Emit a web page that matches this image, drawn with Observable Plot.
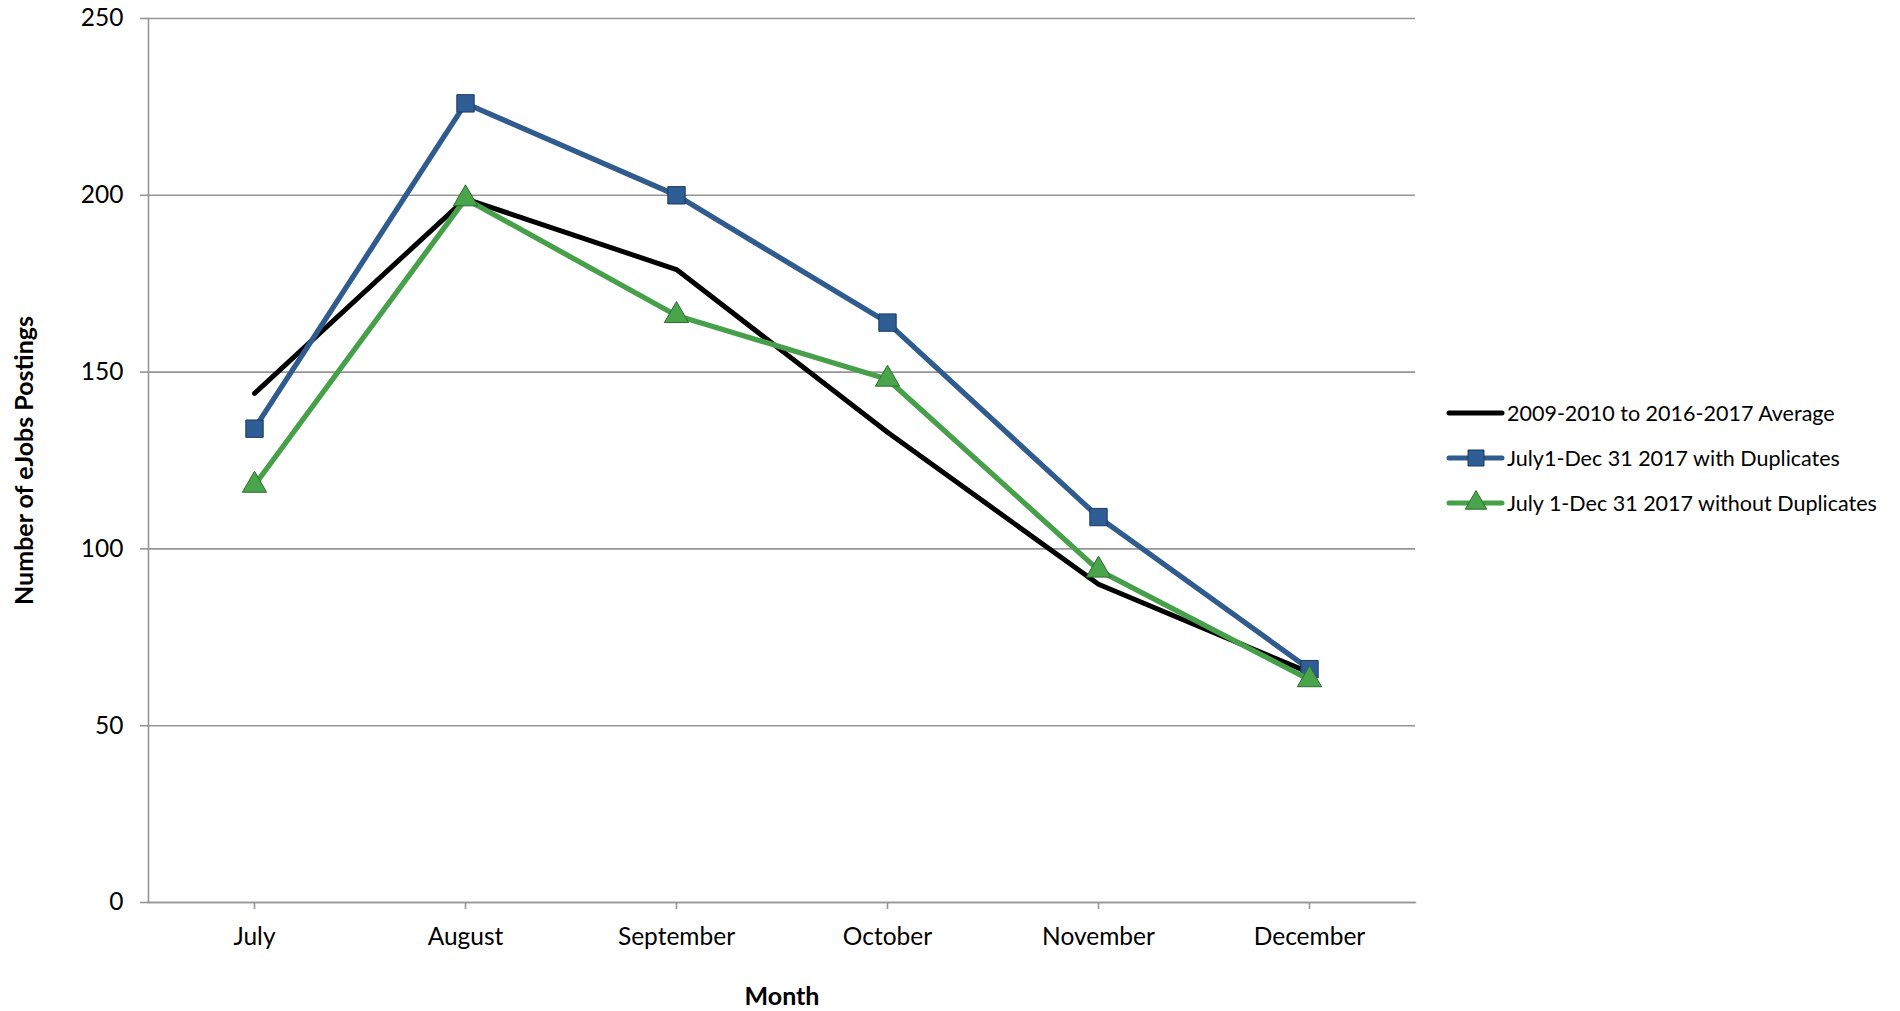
<!DOCTYPE html>
<html><head><meta charset="utf-8">
<script src="https://cdn.jsdelivr.net/npm/d3@7"></script>
<script src="https://cdn.jsdelivr.net/npm/@observablehq/plot@0.6"></script>
<style>
body{margin:0;background:#fff}
#chart{position:relative;width:1900px;height:1011px}
</style>
</head><body><div id="chart"></div>
<script>
const months = ["July","August","September","October","November","December"];
const seriesNames = ["2009-2010 to 2016-2017 Average","July1-Dec 31 2017 with Duplicates","July 1-Dec 31 2017 without Duplicates"];
const averageValues = [144, 199, 179, 133, 90, 65];
const withDupValues = [134, 226, 200, 164, 109, 66];
const withoutDupValues = [118, 199, 166, 148, 94, 63];
const yTicks = [0, 50, 100, 150, 200, 250];
const xTitle = "Month";
const yTitle = "Number of eJobs Postings";

const lineColors = ["#000000", "#2f5b8f", "#46a04a"];
const markFill = [null, "#2f5d95", "#4aa44c"];
const markStroke = [null, "#1c385c", "#2b6e2d"];

const toRows = (vals, s) => vals.map((v, i) => ({month: months[i], value: v, series: s}));
const avgRows = toRows(averageValues, seriesNames[0]);
const dupRows = toRows(withDupValues, seriesNames[1]);
const noDupRows = toRows(withoutDupValues, seriesNames[2]);

const FONT = "Lato, 'Open Sans', sans-serif";
const grid = "#969696";

const chart = Plot.plot({
  width: 1900, height: 1011,
  marginLeft: 148, marginRight: 485, marginTop: 18, marginBottom: 109,
  style: {fontFamily: FONT, fontSize: "24.5px", color: "#000", background: "#fff", overflow: "visible"},
  x: {type: "point", domain: months, padding: 0.5, label: null},
  y: {domain: [0, 250], label: null},
  marks: [
    Plot.gridY(yTicks, {stroke: grid, strokeOpacity: 1, strokeWidth: 1.6}),
    Plot.frame({anchor: "left", stroke: grid, strokeWidth: 1.6}),
    Plot.frame({anchor: "bottom", stroke: grid, strokeWidth: 1.6}),
    Plot.axisY(yTicks, {tickSize: 8, tickPadding: 17, stroke: grid, strokeWidth: 1.6, fontSize: 24.5, label: null, fill: "#000"}),
    Plot.axisX(months, {tickSize: 7, tickPadding: 18, stroke: grid, strokeWidth: 1.6, fontSize: 24.5, label: null, fill: "#000"}),
    Plot.lineY(avgRows, {x: "month", y: "value", stroke: lineColors[0], strokeWidth: 5, strokeLinejoin: "miter"}),
    Plot.lineY(dupRows, {x: "month", y: "value", stroke: lineColors[1], strokeWidth: 5.3}),
    Plot.dot(dupRows, {x: "month", y: "value", symbol: "square", r: 9.8, fill: markFill[1], stroke: markStroke[1], strokeWidth: 1}),
    Plot.lineY(noDupRows, {x: "month", y: "value", stroke: lineColors[2], strokeWidth: 5.3}),
    Plot.dot(noDupRows, {x: "month", y: "value", symbol: "triangle", r: 9, fill: markFill[2], stroke: markStroke[2], strokeWidth: 1}),
    Plot.text([xTitle], {frameAnchor: "bottom", dy: 102, fontWeight: "bold", fontSize: 25, fill: "#000"}),
    Plot.text([yTitle], {frameAnchor: "left", dx: -124, rotate: -90, textAnchor: "middle", fontWeight: "bold", fontSize: 25, fill: "#000"})
  ]
});
document.getElementById("chart").appendChild(chart);

// legend
const svg = d3.select(chart);
const lg = svg.append("g").attr("font-family", FONT).attr("font-size", 21.5).attr("text-anchor", "start");
const rowsY = [413, 458, 503];
const symbols = [null, d3.symbolSquare, d3.symbolTriangle];
const symSize = [0, 16 * 16, 200];
seriesNames.forEach((name, i) => {
  const g = lg.append("g").attr("transform", `translate(1447,${rowsY[i]})`);
  g.append("line").attr("x1", 2).attr("x2", 55).attr("y1", 0).attr("y2", 0)
    .attr("stroke", lineColors[i]).attr("stroke-width", 5).attr("stroke-linecap", "round");
  if (symbols[i]) {
    g.append("path").attr("d", d3.symbol(symbols[i], symSize[i])())
      .attr("transform", "translate(29,0)")
      .attr("fill", markFill[i]).attr("stroke", markStroke[i]).attr("stroke-width", 1);
  }
  g.append("text").attr("x", 60).attr("y", 0).attr("dy", "0.35em").attr("fill", "#000").text(name);
});
</script>
</body></html>
